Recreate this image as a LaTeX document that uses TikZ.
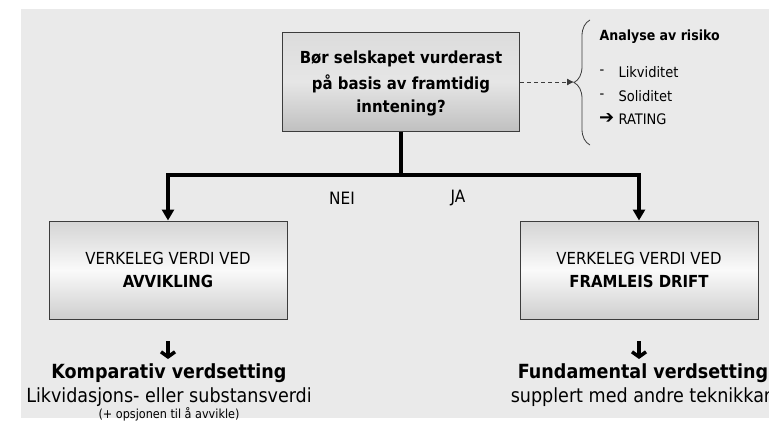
\documentclass[tikz,border=0pt]{standalone}
\usepackage{fontspec}
\setmainfont{DejaVu Sans Condensed}
\newfontfamily\symfont{DejaVu Sans}
\usetikzlibrary{arrows.meta,decorations.pathreplacing}
\definecolor{bggray}{RGB}{234,234,234}
\definecolor{edgegray}{RGB}{60,60,60}
\newcommand{\fs}[1]{\fontsize{#1}{#1}\selectfont}

\tikzset{
  qbox/.style={draw=edgegray, line width=1pt, minimum width=237pt, minimum height=98pt,
    top color={rgb,255:red,220;green,220;blue,220}, bottom color={rgb,255:red,192;green,192;blue,192},
    middle color={rgb,255:red,230;green,230;blue,230},
    align=center, font=\bfseries\fs{16.6}, text depth=0pt},
  vbox/.style={draw=edgegray, line width=1pt, minimum width=238pt, minimum height=98pt,
    top color={rgb,255:red,212;green,212;blue,212}, bottom color={rgb,255:red,206;green,206;blue,206},
    middle color={rgb,255:red,250;green,250;blue,250},
    align=center, font=\fs{16.6}},
  fork/.style={line width=4pt, line join=miter},
  downtip/.style={-{Triangle[width=12pt,length=11pt]}},
  smallpil/.style={line width=3.5pt, -{Straight Barb[length=5pt,width=14pt]}},
  plain/.style={font=\fs{17}},
  risk/.style={anchor=west, font=\fs{14.5}},
}

\begin{document}
\begin{tikzpicture}[x=1pt,y=-1pt]
  \useasboundingbox (0,0) rectangle (769,428);
  \fill[bggray] (21,9) rectangle (769,418);

  % question and the two outcomes
  \node[qbox] (spm) at (401,82) {Bør selskapet vurderast\\[6.5pt]på basis av framtidig\\[6.5pt]inntening?};
  \node[vbox] (avv) at (168,270) {VERKELEG VERDI VED\\[6.5pt]\textbf{AVVIKLING}};
  \node[vbox] (drift) at (639,270) {VERKELEG VERDI VED\\[6.5pt]\textbf{FRAMLEIS DRIFT}};

  \coordinate (split) at (401,175);
  \draw[fork] (spm) -- (split);
  \draw[fork,downtip] (split) -| (avv);
  \draw[fork,downtip] (split) -| (drift);
  \node[plain] (nei) at (342,198) {NEI};
  \node[plain] (ja) at (458,198) {JA};

  % risk analysis
  \coordinate (brtip) at (574,82);
  \draw[edgegray, line width=0.8pt, decorate, decoration={brace,amplitude=16pt}] (590,145) -- (590,20);
  \draw[edgegray, line width=0.8pt, dash pattern=on 4pt off 3pt, -{Latex[length=7pt,width=7pt]}] (spm) -- (brtip);
  \node[risk, font=\bfseries\fs{14}] (ana) at (596,37) {Analyse av risiko};
  \node[risk] (d1) at (596,72) {-};
  \node[risk] (likvid) at (615,72) {Likviditet};
  \node[risk] (d2) at (596,96) {-};
  \node[risk] (solid) at (615,96) {Soliditet};
  \node[risk, font=\symfont\bfseries\fs{18}, inner sep=0pt] (pil) at (599,119) {➔};
  \node[risk] (rating) at (615,119) {RATING};

  % method below each box
  \draw[smallpil] (168,341) -- (168,359);
  \draw[smallpil] (639,341) -- (639,359);
  \node[font=\bfseries\fs{19.5}] (komp) at (169,373) {Komparativ verdsetting};
  \node[font=\fs{19.5}] (likv) at (169,397) {Likvidasjons- eller substansverdi};
  \node[font=\fs{12.5}] (opsj) at (169,414) {(+ opsjonen til å avvikle)};
  \node[font=\bfseries\fs{19.5}] (fund) at (643,373) {Fundamental verdsetting};
  \node[font=\fs{19.5}] (suppl) at (641,397) {supplert med andre teknikkar};
\end{tikzpicture}
\end{document}
